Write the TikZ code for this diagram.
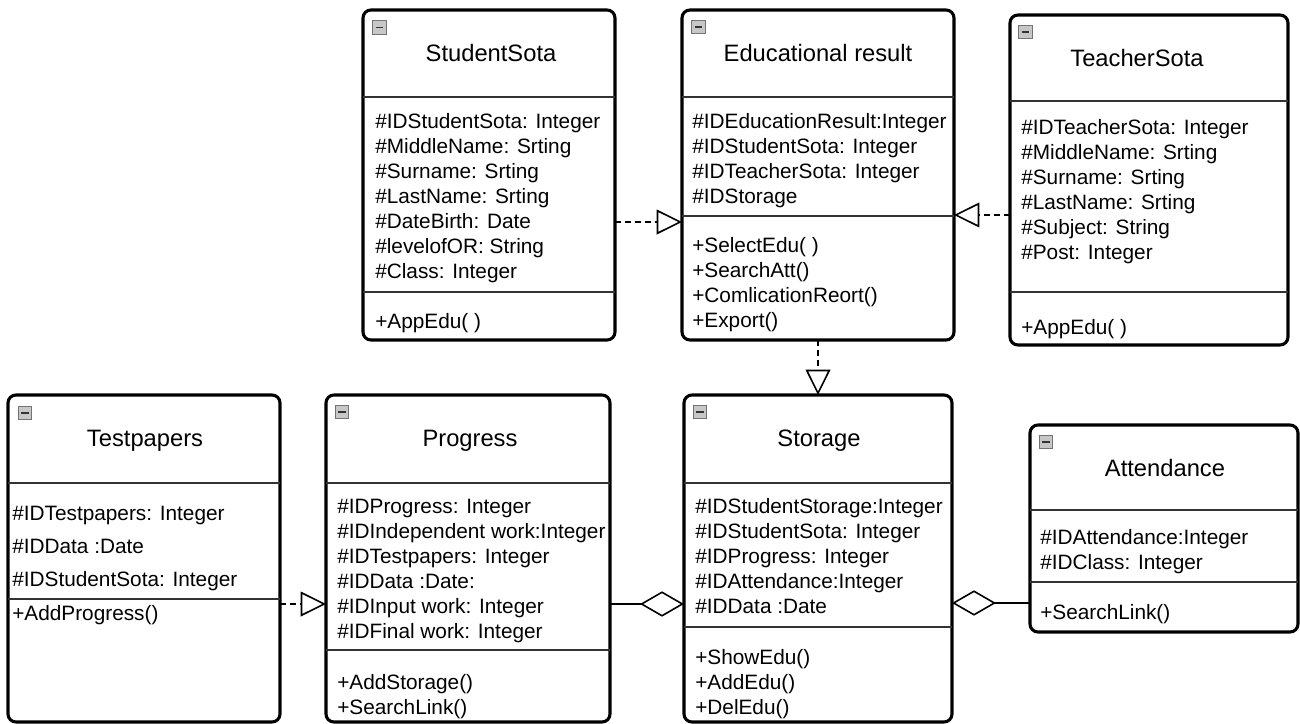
\documentclass[tikz,border=0pt]{standalone}
\usepackage{fontspec}
\setmainfont{Liberation Sans}
\usetikzlibrary{arrows.meta}
\newcommand\umlattrs[5]{%
  \foreach \t [count=\i from 0] in {#5} {\node[attr] (#1\i) at (#2, {#3+7.5+\i*#4}) {\t};}}
\begin{document}
\begin{tikzpicture}[x=0.75pt,y=-0.75pt,
  cls/.style={draw=black, line width=2.3pt, rounded corners=6pt, inner sep=0pt, outer sep=0pt, fill=white},
  divider/.style={draw=black!80, line width=1.1pt},
  ttl/.style={anchor=base, inner sep=0pt, font=\fontsize{17.8}{20}\selectfont},
  attr/.style={anchor=base west, inner sep=0pt, font=\fontsize{15.6}{18}\selectfont},
  icon/.style={draw=black!55, fill=black!22, line width=0.6pt, minimum size=10pt, inner sep=0pt,
    path picture={\draw[black!80, line width=1.1pt] ([xshift=2.2pt]path picture bounding box.west) -- ([xshift=-2.2pt]path picture bounding box.east);}},
  dep/.style={line width=1.2pt, dash pattern=on 4.5pt off 3pt, -{Triangle[open, length=19pt, width=18.5pt, line width=1.2pt]}},
  agg/.style={line width=1.2pt, -{Diamond[open, length=33pt, width=19pt, line width=1.2pt]}}
]
\fill[white] (0,0) rectangle (1300,724);
\useasboundingbox (0,0) rectangle (1300,724);

% ---------- class boxes ----------
\node[cls, minimum width=189pt, minimum height=247.5pt] (ss) at (489,175) {};
\node[cls, minimum width=204pt, minimum height=247.5pt] (er) at (818,175) {};
\node[cls, minimum width=208.5pt, minimum height=247.5pt] (ts) at (1149,180) {};
\node[cls, minimum width=204pt, minimum height=245.25pt] (tp) at (144,558.5) {};
\node[cls, minimum width=213pt, minimum height=245.25pt] (pr) at (468,558.5) {};
\node[cls, minimum width=201pt, minimum height=245.25pt] (st) at (818,558.5) {};
\node[cls, minimum width=201pt, minimum height=155.25pt] (at) at (1164,528.5) {};

% ---------- icons ----------
\node[icon] (ssi) at (379.5,27.5) {};
\node[icon] (eri) at (698.5,27) {};
\node[icon] (tsi) at (1025.5,32) {};
\node[icon] (tpi) at (25,413) {};
\node[icon] (pri) at (342,412) {};
\node[icon] (sti) at (700,412) {};
\node[icon] (ati) at (1046,442) {};

% ---------- titles ----------
\node[ttl] (sst) at (491,61.5) {StudentSota};
\node[ttl] (ert) at (818,61.5) {Educational result};
\node[ttl] (tst) at (1137,66.5) {TeacherSota};
\node[ttl] (tpt) at (145,446.5) {Testpapers};
\node[ttl] (prt) at (470,446.5) {Progress};
\node[ttl] (stt) at (819,446.5) {Storage};
\node[ttl] (att) at (1165,476.5) {Attendance};

% ---------- dividers ----------
\draw[divider] (ss.west |- 0,97) -- (ss.east |- 0,97);
\draw[divider] (ss.west |- 0,292) -- (ss.east |- 0,292);
\draw[divider] (er.west |- 0,97) -- (er.east |- 0,97);
\draw[divider] (er.west |- 0,216) -- (er.east |- 0,216);
\draw[divider] (ts.west |- 0,101) -- (ts.east |- 0,101);
\draw[divider] (ts.west |- 0,292) -- (ts.east |- 0,292);
\draw[divider] (tp.west |- 0,483) -- (tp.east |- 0,483);
\draw[divider] (tp.west |- 0,599) -- (tp.east |- 0,599);
\draw[divider] (pr.west |- 0,483) -- (pr.east |- 0,483);
\draw[divider] (pr.west |- 0,650) -- (pr.east |- 0,650);
\draw[divider] (st.west |- 0,483) -- (st.east |- 0,483);
\draw[divider] (st.west |- 0,627) -- (st.east |- 0,627);
\draw[divider] (at.west |- 0,510) -- (at.east |- 0,510);
\draw[divider] (at.west |- 0,582) -- (at.east |- 0,582);

% ---------- attributes and methods ----------
\umlattrs{ssa}{375}{121}{25}{\#IDStudentSota: Integer,\#MiddleName: Srting,\#Surname: Srting,\#LastName: Srting,\#DateBirth: Date,\#levelofOR: String,\#Class: Integer}
\umlattrs{ssm}{375}{321}{25}{+AppEdu( )}
\umlattrs{era}{692}{121}{25}{\#IDEducationResult:Integer,\#IDStudentSota: Integer,\#IDTeacherSota: Integer,\#IDStorage}
\umlattrs{erm}{692}{245}{25}{+SelectEdu( ),+SearchAtt(),+ComlicationReort(),+Export()}
\umlattrs{tsa}{1021}{127}{25}{\#IDTeacherSota: Integer,\#MiddleName: Srting,\#Surname: Srting,\#LastName: Srting,\#Subject: String,\#Post: Integer}
\umlattrs{tsm}{1021}{327}{25}{+AppEdu( )}
\umlattrs{tpa}{12}{513}{33}{\#IDTestpapers: Integer,\#IDData :Date,\#IDStudentSota: Integer}
\umlattrs{tpm}{12}{613}{25}{+AddProgress()}
\umlattrs{pra}{337}{506}{25}{\#IDProgress: Integer,\#IDIndependent work:Integer,\#IDTestpapers: Integer,\#IDData :Date:,\#IDInput work: Integer,\#IDFinal work: Integer}
\umlattrs{prm}{337}{682}{25}{+AddStorage(),+SearchLink()}
\umlattrs{sta}{695}{506}{25}{\#IDStudentStorage:Integer,\#IDStudentSota: Integer,\#IDProgress: Integer,\#IDAttendance:Integer,\#IDData :Date}
\umlattrs{stm}{695}{657}{25}{+ShowEdu(),+AddEdu(),+DelEdu()}
\umlattrs{ata}{1040}{537}{25}{\#IDAttendance:Integer,\#IDClass: Integer}
\umlattrs{atm}{1040}{612}{25}{+SearchLink()}

% ---------- connectors ----------
\draw[dep] (ss.east |- 0,222) -- (er.west |- 0,222);
\draw[dep] (ts.west |- 0,215) -- (er.east |- 0,215);
\draw[dep] (er.south) -- (st.north);
\draw[dep] (tp.east |- 0,604) -- (pr.west |- 0,604);
\draw[agg] (pr.east |- 0,604) -- (st.west |- 0,604);
\draw[agg] (at.west |- 0,603) -- (st.east |- 0,603);
\end{tikzpicture}
\end{document}
